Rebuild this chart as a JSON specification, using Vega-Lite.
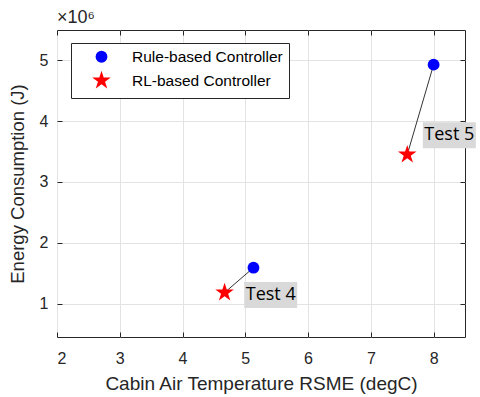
{
  "$schema": "https://vega.github.io/schema/vega-lite/v6.json",
  "width": 408,
  "height": 307,
  "autosize": {"type": "none"},
  "padding": {"left": 57, "top": 30, "right": 15, "bottom": 60},
  "background": "white",
  "title": {"text": "×10⁶", "anchor": "start", "frame": "group", "font": "Liberation Sans", "fontSize": 18, "fontWeight": "normal", "color": "#262626", "offset": 3},
  "resolve": {"axis": {"x": "independent", "y": "independent"}},
  "config": {
    "font": "Liberation Sans",
    "view": {"stroke": "#262626", "strokeWidth": 1},
    "axis": {
      "domain": false,
      "gridColor": "#e3e3e3",
      "gridWidth": 1,
      "ticks": true,
      "tickSize": -5,
      "tickColor": "#262626",
      "labelColor": "#262626",
      "titleColor": "#262626",
      "labelFont": "Liberation Sans",
      "titleFont": "Liberation Sans",
      "labelFontSize": 16,
      "titleFontSize": 19,
      "titleFontWeight": "normal"
    }
  },
  "layer": [
    {
      "data": {"values": [
        {"test": "Test 4", "rule_rsme": 5.13, "rule_energy": 1590000, "rl_rsme": 4.67, "rl_energy": 1180000},
        {"test": "Test 5", "rule_rsme": 8.0, "rule_energy": 4930000, "rl_rsme": 7.58, "rl_energy": 3450000}
      ]},
      "mark": {"type": "rule", "color": "black", "strokeWidth": 0.8},
      "encoding": {
        "x": {"field": "rule_rsme", "type": "quantitative", "scale": {"domain": [2, 8.5], "nice": false, "zero": false},
              "axis": {"title": "Cabin Air Temperature RSME (degC)", "values": [2,3,4,5,6,7,8], "format": "d", "labelPadding": 18, "titlePadding": 8}},
        "y": {"field": "rule_energy", "type": "quantitative", "scale": {"domain": [450000, 5500000], "nice": false, "zero": false},
              "axis": {"title": "Energy Consumption (J)", "titleFontSize": 18.5, "values": [1000000,2000000,3000000,4000000,5000000], "labelExpr": "format(datum.value/1e6, 'd')", "labelPadding": 14, "titlePadding": 12}},
        "x2": {"field": "rl_rsme"},
        "y2": {"field": "rl_energy"}
      }
    },
    {
      "data": {"values": [
        {"test": "Test 4", "controller": "Rule-based Controller", "rsme": 5.13, "energy": 1590000},
        {"test": "Test 4", "controller": "RL-based Controller", "rsme": 4.67, "energy": 1180000},
        {"test": "Test 5", "controller": "Rule-based Controller", "rsme": 8.0, "energy": 4930000},
        {"test": "Test 5", "controller": "RL-based Controller", "rsme": 7.58, "energy": 3450000}
      ]},
      "mark": {"type": "point", "filled": true, "opacity": 1},
      "encoding": {
        "x": {"field": "rsme", "type": "quantitative",
              "axis": {"orient": "top", "labels": false, "grid": false, "title": null, "values": [2,3,4,5,6,7,8]}},
        "y": {"field": "energy", "type": "quantitative",
              "axis": {"orient": "right", "labels": false, "grid": false, "title": null, "values": [1000000,2000000,3000000,4000000,5000000]}},
        "shape": {"field": "controller", "type": "nominal", "scale": {"domain": ["Rule-based Controller", "RL-based Controller"], "range": ["circle", "M0,-1L0.2245,-0.309L0.951,-0.309L0.363,0.118L0.588,0.809L0,0.382L-0.588,0.809L-0.363,0.118L-0.951,-0.309L-0.2245,-0.309Z"]}},
        "color": {"field": "controller", "type": "nominal", "scale": {"domain": ["Rule-based Controller", "RL-based Controller"], "range": ["#0000ff", "#ff0000"]},
                  "legend": {"title": null, "orient": "none", "legendX": 14, "legendY": 13, "strokeColor": "#262626", "fillColor": "white", "padding": 6, "symbolOffset": 14, "labelFontSize": 15.5, "labelColor": "black", "labelOffset": 20, "rowPadding": 1, "symbolOpacity": 1, "labelLimit": 300}},
        "size": {"field": "controller", "type": "nominal", "scale": {"domain": ["Rule-based Controller", "RL-based Controller"], "range": [140, 380]}}
      }
    },
    {
      "data": {"values": [
        {"test": "Test 4", "label_x": 5.405, "label_y": 1140000},
        {"test": "Test 5", "label_x": 8.25, "label_y": 3770000}
      ]},
      "mark": {"type": "rect", "width": 53, "height": 26, "color": "#d9d9d9"},
      "encoding": {
        "x": {"field": "label_x", "type": "quantitative", "axis": null},
        "y": {"field": "label_y", "type": "quantitative", "axis": null}
      }
    },
    {
      "data": {"values": [
        {"test": "Test 4", "label_x": 5.405, "label_y": 1140000},
        {"test": "Test 5", "label_x": 8.25, "label_y": 3770000}
      ]},
      "mark": {"type": "text", "font": "Open Sans", "fontSize": 18, "color": "black", "align": "center", "baseline": "middle"},
      "encoding": {
        "x": {"field": "label_x", "type": "quantitative", "axis": null},
        "y": {"field": "label_y", "type": "quantitative", "axis": null},
        "text": {"field": "test"}
      }
    }
  ]
}
